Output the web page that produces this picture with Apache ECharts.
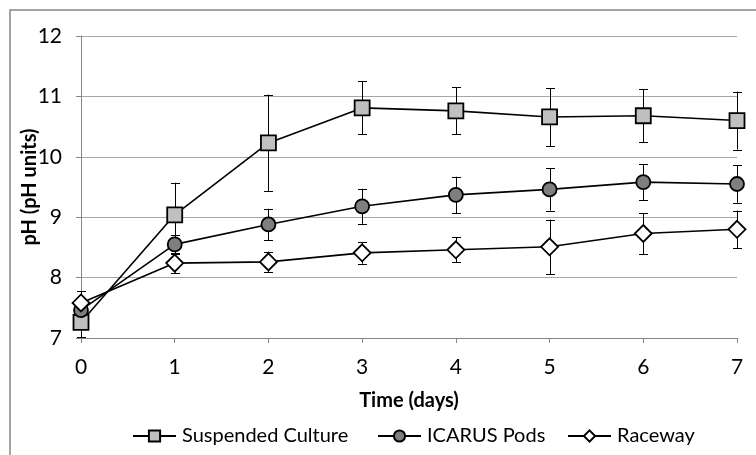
<!DOCTYPE html>
<html>
<head>
<meta charset="utf-8">
<script src="https://cdn.jsdelivr.net/npm/echarts@6/dist/echarts.min.js"></script>
<style>html,body{margin:0;padding:0;background:#fff}#c{width:756px;height:455px}</style>
</head>
<body>
<div id="c"></div>
<script>
const days = [0, 1, 2, 3, 4, 5, 6, 7];
const yTicks = [7, 8, 9, 10, 11, 12];
const suspended = [7.26, 9.04, 10.23, 10.81, 10.76, 10.66, 10.68, 10.60];
const suspendedErr = [0.25, 0.53, 0.80, 0.44, 0.39, 0.48, 0.44, 0.48];
const icarus = [7.46, 8.55, 8.88, 9.18, 9.37, 9.46, 9.58, 9.55];
const icarusErr = [0.10, 0.16, 0.26, 0.29, 0.30, 0.35, 0.30, 0.31];
const raceway = [7.58, 8.24, 8.26, 8.41, 8.46, 8.51, 8.73, 8.80];
const racewayErr = [0.20, 0.16, 0.17, 0.18, 0.21, 0.45, 0.34, 0.31];
const names = ['Suspended Culture', 'ICARUS Pods', 'Raceway'];

const FONT = 'Lato, "Open Sans", sans-serif';
const chart = echarts.init(document.getElementById('c'), null, {renderer: 'canvas'});

function errSeries(vals, errs) {
  return {
    type: 'custom',
    silent: true,
    z: 1,
    data: days.map((d, i) => [d, vals[i] - errs[i], vals[i] + errs[i]]),
    renderItem: function (params, api) {
      const lo = api.coord([api.value(0), api.value(1)]);
      const hi = api.coord([api.value(0), api.value(2)]);
      const x = Math.round(lo[0]) + 0.5;
      const cap = 4.5;
      const st = {stroke: '#000', lineWidth: 1, fill: null};
      return {
        type: 'group',
        children: [
          {type: 'line', shape: {x1: x, y1: lo[1], x2: x, y2: hi[1]}, style: st},
          {type: 'line', shape: {x1: x - cap, y1: Math.round(lo[1]) + 0.5, x2: x + cap, y2: Math.round(lo[1]) + 0.5}, style: st},
          {type: 'line', shape: {x1: x - cap, y1: Math.round(hi[1]) + 0.5, x2: x + cap, y2: Math.round(hi[1]) + 0.5}, style: st}
        ]
      };
    }
  };
}

function lineSeries(name, vals, symbol, size, fill) {
  return {
    name: name,
    type: 'line',
    z: 3,
    data: days.map((d, i) => [d, vals[i]]),
    symbol: symbol,
    symbolSize: size,
    showAllSymbol: true,
    lineStyle: {color: '#000', width: 1.6},
    itemStyle: {color: fill, borderColor: '#000', borderWidth: 1.8},
    emphasis: {disabled: true},
    animation: false
  };
}

function legendAt(name, left) {
  return {
    data: [name],
    left: left,
    top: 426,
    itemWidth: 43,
    itemHeight: 14,
    itemGap: 0,
    padding: 0,
    selectedMode: false,
    textStyle: {fontFamily: FONT, fontSize: 20, color: '#000', padding: [0, 0, 0, 1]}
  };
}

chart.setOption({
  animation: false,
  backgroundColor: '#fff',
  graphic: [{
    type: 'rect',
    shape: {x: 10, y: 10, width: 1000, height: 1000},
    style: {fill: null, stroke: '#878787', lineWidth: 1.5},
    silent: true
  }],
  grid: {left: 81, right: 19, top: 36, bottom: 117, containLabel: false},
  legend: [legendAt(names[0], 132), legendAt(names[1], 377), legendAt(names[2], 567)],
  xAxis: {
    type: 'value', min: 0, max: 7, interval: 1,
    name: 'Time (days)', nameLocation: 'middle', nameGap: 53, nameMoveOverlap: false,
    nameTextStyle: {fontFamily: FONT, fontSize: 20, fontWeight: 'bold', color: '#000'},
    axisLine: {lineStyle: {color: '#868686', width: 1}},
    axisTick: {show: true, length: 5, lineStyle: {color: '#868686'}},
    axisLabel: {fontFamily: FONT, fontSize: 21, color: '#000', margin: 19},
    splitLine: {show: false}
  },
  yAxis: {
    type: 'value', min: 7, max: 12, interval: 1,
    name: 'pH (pH units)', nameLocation: 'middle', nameGap: 51, nameRotate: 90, nameMoveOverlap: false,
    nameTextStyle: {fontFamily: FONT, fontSize: 20, fontWeight: 'bold', color: '#000', verticalAlign: 'middle'},
    axisLine: {show: true, lineStyle: {color: '#868686', width: 1}},
    axisTick: {show: true, length: 5, lineStyle: {color: '#868686'}},
    axisLabel: {fontFamily: FONT, fontSize: 21, color: '#000', margin: 19},
    splitLine: {show: true, lineStyle: {color: '#a6a6a6', width: 1}}
  },
  series: [
    errSeries(suspended, suspendedErr),
    errSeries(icarus, icarusErr),
    errSeries(raceway, racewayErr),
    lineSeries(names[0], suspended, 'rect', 15, '#c0c0c0'),
    lineSeries(names[1], icarus, 'circle', 14, '#7f7f7f'),
    lineSeries(names[2], raceway, 'diamond', 17, '#ffffff')
  ]
});
</script>
</body>
</html>
